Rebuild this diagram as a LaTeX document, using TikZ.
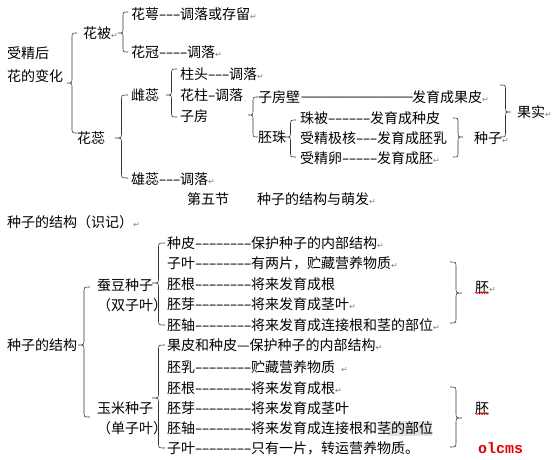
\documentclass[tikz,border=0pt]{standalone}
\usepackage{fontspec}
\setmainfont{Noto Sans CJK SC}
\newfontfamily\symf{DejaVu Sans}
\newfontfamily\monof{Liberation Mono}
\usetikzlibrary{decorations.pathmorphing}
\newcommand{\hy}{\makebox[7pt]{\scalebox{1.6}[1]{-}}}
\newcommand{\ret}{{\symf\fontsize{8}{8}\selectfont\color{gray}↵}}
\newcommand{\mybrace}[5]{%
 \pgfmathsetmacro{\brm}{(#1+#2)/2}%
 \draw[brc] (#2,#3) .. controls (\brm,#3) .. (\brm,#3+5) -- (\brm,#4-5) .. controls (\brm,#4) .. (#1,#4) .. controls (\brm,#4) .. (\brm,#4+5) -- (\brm,#5-5) .. controls (\brm,#5) .. (#2,#5);}
\begin{document}
\begin{tikzpicture}[x=1pt,y=-1pt,
 txt/.style={anchor=west,inner sep=0pt,font=\fontsize{14}{16}\selectfont,text height=12.3pt,text depth=1.7pt},
 brc/.style={draw=black!80,line width=0.6pt},
 wavy/.style={draw=red,line width=0.5pt,decorate,decoration={snake,amplitude=0.8pt,segment length=2.5pt}}]
\useasboundingbox (0,0) rectangle (554,460);
\fill[white] (0,0) rectangle (554,460);
\fill[gray!22] (388,421) rectangle (432,436);
% top part
\node[txt] (e1) at (131,14) {花萼\hy\hy\hy 调落或存留\ret};
\node[txt] (hb) at (83,33) {花被\ret};
\node[txt] (e2) at (131,52) {花冠\hy\hy\hy\hy 调落\ret};
\node[txt] (s1) at (7,53) {受精后};
\node[txt] (s2) at (7,76) {花的变化};
\node[txt] (cx) at (131,95) {雌蕊};
\node[txt] (c1) at (180,74) {柱头\hy\hy\hy 调落\ret};
\node[txt] (c2) at (180,95) {花柱\hy 调落};
\node[txt] (c3) at (180,116) {子房};
\node[txt] (hr) at (77,138) {花蕊};
\node[txt] (zf) at (258,97) {子房壁\raisebox{1pt}{\makebox[112pt]{\xleaders\hbox{—\kern-2pt}\hfill}}发育成果皮\ret};
\node[txt] (pz) at (258,137) {胚珠};
\node[txt] (p1) at (300,118) {珠被\hy\hy\hy\hy\hy\hy 发育成种皮};
\node[txt] (p2) at (300,138) {受精极核\hy\hy\hy 发育成胚乳};
\node[txt] (p3) at (300,158) {受精卵\hy\hy\hy\hy\hy 发育成胚\ret};
\node[txt] (zz) at (474,138) {种子\ret};
\node[txt] (gs) at (517,112) {果实\ret};
\node[txt] (xr) at (131,179) {雄蕊\hy\hy\hy 调落\ret};
\node[txt] (t1) at (187,199) {第五节};
\node[txt] (t2) at (257,199) {种子的结构与萌发\ret};
\node[txt] (h1) at (7,222) {种子的结构（识记）\ret};
% bottom part
\node[txt] (cd) at (97,285) {蚕豆种子};
\node[txt] (cd2) at (97,305) {（双子叶）};
\node[txt] (zj) at (7,345) {种子的结构};
\node[txt] (ym) at (97,408) {玉米种子};
\node[txt] (ym2) at (97,428) {（单子叶）};
\node[txt] (a1) at (167,243) {种皮\hy\hy\hy\hy\hy\hy\hy\hy 保护种子的内部结构\ret};
\node[txt] (a2) at (167,263) {子叶\hy\hy\hy\hy\hy\hy\hy\hy 有两片，贮藏营养物质\ret};
\node[txt] (a3) at (167,284) {胚根\hy\hy\hy\hy\hy\hy\hy\hy 将来发育成根};
\node[txt] (a4) at (167,304) {胚芽\hy\hy\hy\hy\hy\hy\hy\hy 将来发育成茎叶\ret};
\node[txt] (a5) at (167,325) {胚轴\hy\hy\hy\hy\hy\hy\hy\hy 将来发育成连接根和茎的部位\ret};
\node[txt] (b1) at (167,345) {果皮和种皮—保护种子的内部结构\ret};
\node[txt] (b2) at (167,367) {胚乳\hy\hy\hy\hy\hy\hy\hy\hy 贮藏营养物质\hspace{6pt}\ret};
\node[txt] (b3) at (167,388) {胚根\hy\hy\hy\hy\hy\hy\hy\hy 将来发育成根\ret};
\node[txt] (b4) at (167,408) {胚芽\hy\hy\hy\hy\hy\hy\hy\hy 将来发育成茎叶};
\node[txt] (b5) at (167,428) {胚轴\hy\hy\hy\hy\hy\hy\hy\hy 将来发育成连接根和茎的部位};
\node[txt] (b6) at (167,448) {子叶\hy\hy\hy\hy\hy\hy\hy\hy 只有一片，转运营养物质。};
\node[txt] (pe1) at (475,287) {胚\ret};
\node[txt] (pe2) at (475,408) {胚};
\node[anchor=west,inner sep=0pt,font=\monof\bfseries\fontsize{15}{15}\selectfont,text=red!90!black] (wm) at (478,448) {olcms};
\draw[wavy] (475,293) -- (489,293);
\draw[wavy] (475,414) -- (489,414);
% braces
\mybrace{118}{128}{12}{33}{52}
\mybrace{67}{77}{33}{83}{133}
\mybrace{115}{128}{95}{138}{178}
\mybrace{166}{177}{69}{95}{117}
\mybrace{248}{258}{97}{115}{137}
\mybrace{285}{296}{120}{137}{157}
\mybrace{463}{453}{118}{137}{157}
\mybrace{511}{500}{85}{112}{137}
\mybrace{462}{450}{262}{293}{323}
\mybrace{462}{450}{387}{418}{447}
\mybrace{152}{165}{243}{283}{325}
\mybrace{78}{90}{287}{345}{417}
\mybrace{152}{165}{345}{398}{448}
\end{tikzpicture}
\end{document}
